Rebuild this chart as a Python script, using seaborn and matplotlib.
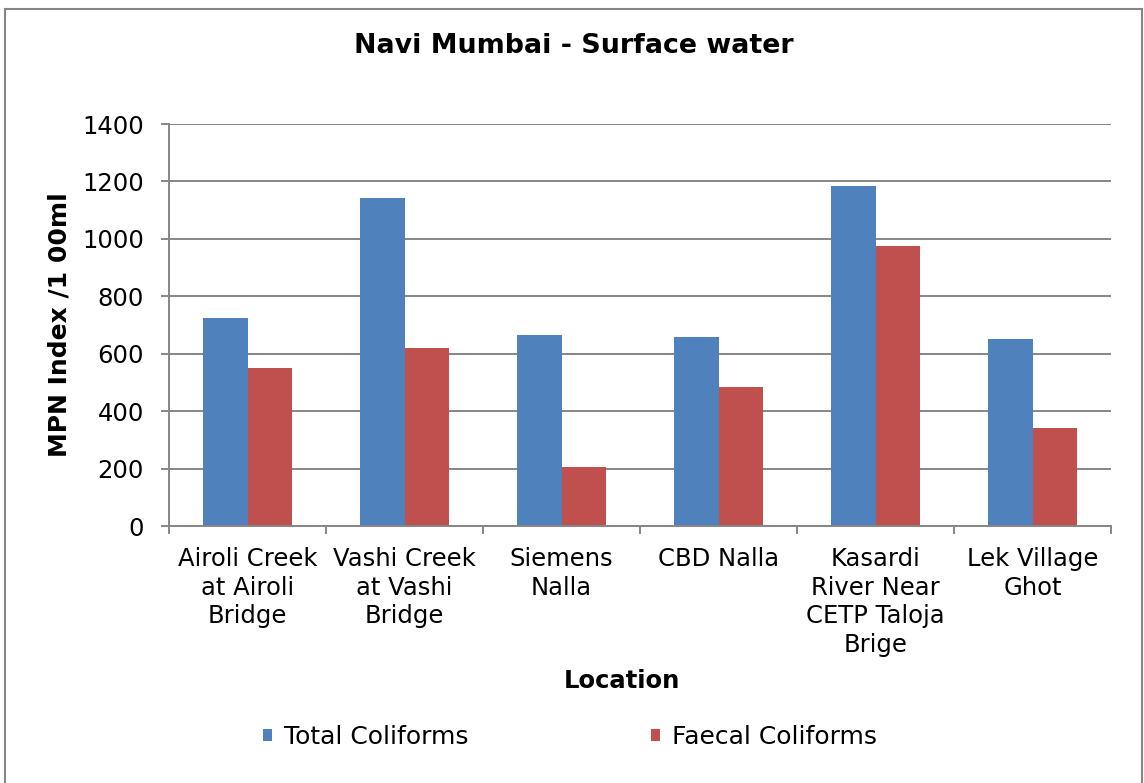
import matplotlib
matplotlib.use("Agg")
import matplotlib.pyplot as plt
from matplotlib.patches import Rectangle
import pandas as pd
import seaborn as sns

# Sampling locations and coliform counts (MPN Index / 100 ml)
locations = [
    "Airoli Creek\nat Airoli\nBridge",
    "Vashi Creek\nat Vashi\nBridge",
    "Siemens\nNalla",
    "CBD Nalla",
    "Kasardi\nRiver Near\nCETP Taloja\nBrige",
    "Lek Village\nGhot",
]
total_coliforms = [723, 1141, 666, 657, 1183, 650]
faecal_coliforms = [549, 620, 206, 485, 975, 343]
series_names = ["Total Coliforms", "Faecal Coliforms"]
y_ticks = [0, 200, 400, 600, 800, 1000, 1200, 1400]

df = pd.DataFrame({
    "Location": locations * 2,
    "Series": [series_names[0]] * len(locations) + [series_names[1]] * len(locations),
    "Value": total_coliforms + faecal_coliforms,
})

sns.set_theme(style="white")
plt.rcParams["font.family"] = ["DejaVu Sans"]
plt.rcParams["text.color"] = "black"
plt.rcParams["axes.labelcolor"] = "black"

W, H = 1144, 783
fig = plt.figure(figsize=(W / 100, H / 100), dpi=100)
ax = fig.add_axes([169 / W, 1 - 526 / H, (1111 - 169) / W, (526 - 124) / H])

palette = {series_names[0]: "#4F81BD", series_names[1]: "#C0504D"}
sns.barplot(data=df, x="Location", y="Value", hue="Series", order=locations,
            hue_order=series_names, palette=palette, width=0.57, saturation=1,
            edgecolor="none", ax=ax, legend=True)

grey = "#868686"
ax.set_xlim(-0.5, len(locations) - 0.5)
ax.set_ylim(0, 1400)
ax.set_yticks(y_ticks)
ax.set_yticklabels([str(v) for v in y_ticks], fontsize=17.5, color="black")
ax.yaxis.grid(True, color=grey, linewidth=1.4)
ax.set_axisbelow(True)
ax.tick_params(axis="y", length=6, width=1.4, color=grey, pad=12, left=True)

# category labels centred under each group, tick marks at group boundaries
ax.set_xticks(range(len(locations)))
ax.set_xticklabels(locations, fontsize=17.5, color="black", linespacing=1.25)
ax.tick_params(axis="x", which="major", length=0, pad=15)
ax.set_xticks([i - 0.5 for i in range(len(locations) + 1)], minor=True)
ax.tick_params(axis="x", which="minor", length=6, width=1.4, color=grey, bottom=True)

for side in ("top", "right"):
    ax.spines[side].set_visible(False)
for side in ("left", "bottom"):
    ax.spines[side].set_color(grey)
    ax.spines[side].set_linewidth(1.4)

ax.set_xlabel("Location", fontsize=17.5, fontweight="bold", labelpad=8)
ax.xaxis.set_label_coords((622 - 169) / (1111 - 169), -0.355)
ax.set_ylabel("MPN Index /1 00ml", fontsize=18, fontweight="bold", labelpad=8)

fig.text(574 / W, 1 - 46 / H, "Navi Mumbai - Surface water", ha="center", va="center",
         fontsize=19.4, fontweight="bold")

handles, labels = ax.get_legend_handles_labels()
ax.get_legend().remove()
fig.legend(handles, labels, loc="center", bbox_to_anchor=(570 / W, 1 - 737 / H),
           ncol=2, frameon=False, fontsize=18, handlelength=0.35, handleheight=0.35,
           handletextpad=0.5, columnspacing=7.3)

# chart-area border
fig.patches.append(Rectangle((5 / W, -0.01), (1142 - 5) / W, 1 - 9 / H + 0.01,
                             transform=fig.transFigure, fill=False,
                             edgecolor=grey, linewidth=1.5))

fig.savefig("out.png", dpi=100, facecolor="white")
